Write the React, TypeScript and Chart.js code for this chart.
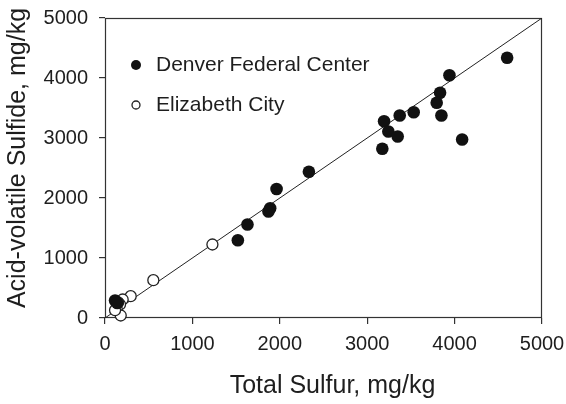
import React, { useEffect, useRef } from "react";
import { Chart, registerables } from "chart.js";

Chart.register(...registerables);

// ---- data ----
const axisMin = 0;
const axisMax = 5000;
const tickStep = 1000;

const denverTotalSulfur = [4601, 3941, 3834, 3795, 3849, 3532, 3372, 3193, 3242, 3349, 3173, 4086, 2333, 1963, 1890, 1870, 1630, 1520, 115, 140];
const denverAVS = [4337, 4047, 3753, 3587, 3375, 3430, 3375, 3280, 3108, 3025, 2820, 2975, 2437, 2150, 1830, 1775, 1558, 1297, 292, 250];

const elizabethTotalSulfur = [1229, 553, 294, 202, 172, 134, 180, 150, 115];
const elizabethAVS = [1225, 630, 363, 308, 225, 153, 42, 260, 130];

const oneToOneLine = [0, 5000];

const seriesLabels = ["Denver Federal Center", "Elizabeth City"];
const xTitle = "Total Sulfur, mg/kg";
const yTitle = "Acid-volatile Sulfide, mg/kg";

const FONT = "'Liberation Sans', Arial, sans-serif";
const TEXT = "#1e1e1e";
const AXIS = "#333";

const toPoints = (xs: number[], ys: number[]) => xs.map((x, i) => ({ x, y: ys[i] }));

const decorPlugin = {
  id: "decor",
  beforeDatasetsDraw(chart: any) {
    const { ctx, chartArea: a } = chart;
    ctx.save();
    ctx.strokeStyle = AXIS;
    ctx.lineWidth = 1.2;
    ctx.strokeRect(a.left + 0.5, a.top + 0.5, a.right - a.left - 1, a.bottom - a.top - 1);
    ctx.restore();
  },
  afterDraw(chart: any) {
    const { ctx, chartArea: a } = chart;
    ctx.save();
    // legend
    const lx = a.left + 31;
    const ly1 = a.top + 47;
    const ly2 = a.top + 87;
    ctx.fillStyle = "#111";
    ctx.beginPath();
    ctx.arc(lx, ly1, 5, 0, Math.PI * 2);
    ctx.fill();
    ctx.strokeStyle = "#222";
    ctx.lineWidth = 1.3;
    ctx.fillStyle = "#fff";
    ctx.beginPath();
    ctx.arc(lx, ly2, 4, 0, Math.PI * 2);
    ctx.fill();
    ctx.stroke();
    ctx.fillStyle = TEXT;
    ctx.font = `21px ${FONT}`;
    ctx.textAlign = "left";
    ctx.textBaseline = "middle";
    ctx.fillText(seriesLabels[0], lx + 20, ly1);
    ctx.fillText(seriesLabels[1], lx + 20, ly2);

    // axis titles
    ctx.font = `25px ${FONT}`;
    ctx.textAlign = "center";
    ctx.textBaseline = "middle";
    ctx.fillText(xTitle, (a.left + a.right) / 2 + 9, 386);
    ctx.translate(18, (a.top + a.bottom) / 2 - 10);
    ctx.rotate(-Math.PI / 2);
    ctx.fillText(yTitle, 0, 0);
    ctx.restore();
  },
};

export default function App() {
  const ref = useRef<HTMLCanvasElement | null>(null);

  useEffect(() => {
    if (!ref.current) return;
    const chart = new Chart(ref.current, {
      type: "scatter",
      data: {
        datasets: [
          {
            label: seriesLabels[0],
            data: toPoints(denverTotalSulfur, denverAVS),
            pointRadius: 6.3,
            pointBackgroundColor: "#111",
            pointBorderColor: "#111",
            pointBorderWidth: 0,
            clip: false,
            order: 1,
          } as any,
          {
            label: seriesLabels[1],
            data: toPoints(elizabethTotalSulfur, elizabethAVS),
            pointRadius: 5.5,
            pointBackgroundColor: "#fff",
            pointBorderColor: "#222",
            pointBorderWidth: 1.3,
            clip: false,
            order: 2,
          } as any,
          {
            label: "1:1",
            data: toPoints(oneToOneLine, oneToOneLine),
            showLine: true,
            pointRadius: 0,
            borderColor: "#222",
            borderWidth: 1,
            order: 10,
          } as any,
        ],
      },
      options: {
        responsive: false,
        animation: false,
        layout: { padding: { top: 18, right: 24, left: 0, bottom: 0 } },
        plugins: {
          legend: { display: false },
          tooltip: { enabled: false },
        },
        scales: {
          x: {
            type: "linear",
            min: axisMin,
            max: axisMax,
            afterFit: (s: any) => {
              s.height = 86;
              s.paddingLeft = 0;
              s.paddingRight = 0;
            },
            ticks: {
              stepSize: tickStep,
              color: TEXT,
              font: { family: FONT, size: 20 },
              padding: 8,
              callback: (v: any) => String(v),
            },
            grid: { drawOnChartArea: false, drawTicks: true, tickLength: 6, color: AXIS, lineWidth: 1.2 },
            border: { display: false },
          },
          y: {
            type: "linear",
            min: axisMin,
            max: axisMax,
            afterFit: (s: any) => {
              s.width = 105;
              s.paddingTop = 0;
              s.paddingBottom = 0;
            },
            ticks: {
              stepSize: tickStep,
              color: TEXT,
              font: { family: FONT, size: 20 },
              padding: 11,
              callback: (v: any) => String(v),
            },
            grid: { drawOnChartArea: false, drawTicks: true, tickLength: 6, color: AXIS, lineWidth: 1.2 },
            border: { display: false },
          },
        },
      },
      plugins: [decorPlugin],
    });
    return () => chart.destroy();
  }, []);

  return (
    <div style={{ position: "absolute", left: 0, top: 0, width: 566, height: 404, background: "#fff" }}>
      <canvas ref={ref} width={566} height={404} />
    </div>
  );
}
